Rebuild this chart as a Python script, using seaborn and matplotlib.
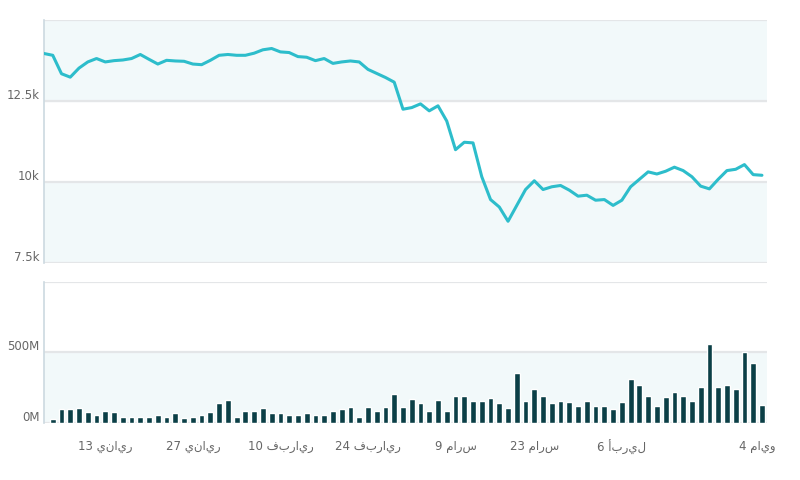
import numpy as np
import pandas as pd
import matplotlib
matplotlib.use("Agg")
import matplotlib.pyplot as plt
import matplotlib.transforms as mtrans
import seaborn as sns

#***********************
#   Data (one point per trading day)
#***********************
close = [13970, 13915, 13345, 13240, 13520, 13710, 13815, 13710, 13750, 13770,
         13815, 13940, 13790, 13645, 13760, 13740, 13730, 13645, 13625, 13760,
         13915, 13940, 13915, 13915, 13980, 14085, 14125, 14020, 14000, 13875,
         13855, 13750, 13815, 13665, 13710, 13740, 13710, 13480, 13355, 13230,
         13085, 12250, 12300, 12415, 12200, 12355, 11885, 11000, 11230, 11210,
         10165, 9460, 9230, 8790, 9280, 9770, 10040, 9770, 9855, 9895,
         9750, 9565, 9595, 9440, 9460, 9280, 9440, 9855, 10085, 10315,
         10250, 10335, 10460, 10355, 10165, 9875, 9790, 10085, 10355, 10395,
         10540, 10230, 10210]

volume_m = [24, 97, 97, 106, 77, 53, 87, 77, 39, 39, 39, 39, 53, 39, 68, 34, 43, 53, 77, 140, 162,
            39, 87, 87, 106, 68, 68, 53, 53, 68, 53, 53, 87, 101, 111, 39, 116, 87, 116, 203, 116,
            169, 140, 87, 164, 87, 193, 193, 155, 155, 174, 140, 106, 357, 155, 237, 193, 140, 155, 145, 121, 155,
            121, 121, 101, 145, 314, 270, 193, 121, 184, 222, 193, 155, 251, 560, 251, 270, 237, 502, 425, 130]

# x-axis labels and the trading-day index they sit on
tick_labels = ["13 يناير", "27 يناير", "10 فبراير", "24 فبراير",
               "9 مارس", "23 مارس", "6 أبريل", "4 مايو"]
tick_index = [6, 16, 26, 36, 46, 55, 65, 80.5]

price_ticks = [7500, 10000, 12500]
price_labels = ["7.5k", "10k", "12.5k"]
vol_ticks = [0, 500]
vol_labels = ["0M", "500M"]

#***********************
#   Style
#***********************
sns.set_style("white")
plt.rcParams['font.family'] = ['DejaVu Sans']

LINE = "#2dbdcb"
BAR = "#0b3f46"
BAND = "#f2f9fa"
GRID = "#e4e6e8"
TXT = "#666666"
SPINE = "#ccd9e0"

df_p = pd.DataFrame({"x": np.arange(-1, len(close) - 1), "close": close})
df_v = pd.DataFrame({"x": np.arange(len(volume_m)), "vol": volume_m})

fig = plt.figure(figsize=(8, 4.8), dpi=100)
ax1 = fig.add_axes([0.055, 0.452, 0.904, 0.506])
ax2 = fig.add_axes([0.055, 0.119, 0.904, 0.294])

xlim = (-1, 81.6)

# price panel
ax1.axhspan(12500, 15000, color=BAND, zorder=0)
ax1.axhspan(7500, 10000, color=BAND, zorder=0)
for v in [7500, 10000, 12500, 15000]:
    ax1.axhline(v, color=GRID, lw=1.6, zorder=1)
sns.lineplot(data=df_p, x="x", y="close", ax=ax1, color=LINE, lw=2.2, zorder=3)
ax1.set_xlim(xlim)
ax1.set_ylim(7500, 15000)
ax1.set_yticks(price_ticks)
ax1.set_yticklabels(price_labels)
ax1.set_xticks([])

# volume panel
ax2.axhspan(0, 500, color=BAND, zorder=0)
for v in [0, 500, 1000]:
    ax2.axhline(v, color=GRID, lw=1.6, zorder=1)
sns.barplot(data=df_v, x="x", y="vol", ax=ax2, color=BAR, native_scale=True,
            width=0.66, saturation=1, zorder=3)
ax2.set_xlim(xlim)
ax2.set_ylim(0, 1000)
ax2.set_yticks(vol_ticks)
ax2.set_yticklabels(vol_labels)
ax2.set_xticks(tick_index)
ax2.set_xticklabels(tick_labels)

for ax in (ax1, ax2):
    ax.set_xlabel("")
    ax.set_ylabel("")
    for s in ["top", "right", "bottom"]:
        ax.spines[s].set_visible(False)
    ax.spines["left"].set_color(SPINE)
    ax.spines["left"].set_linewidth(1.2)
    ax.tick_params(axis="y", length=0, pad=3, labelsize=8.5, labelcolor=TXT)
    # highcharts style labels sit slightly above the grid line
    off = mtrans.ScaledTranslation(0, 5 / 72, fig.dpi_scale_trans)
    for lab in ax.get_yticklabels():
        lab.set_transform(lab.get_transform() + off)

ax2.tick_params(axis="x", length=8, width=1, color="#d8dde0", pad=4,
                labelsize=8.5, labelcolor=TXT)

fig.savefig("out.png", dpi=100)
